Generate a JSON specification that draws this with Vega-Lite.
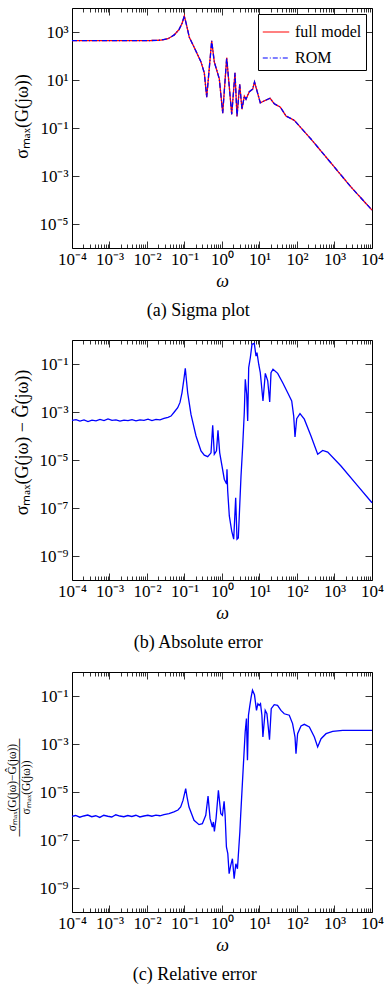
{
"$schema": "https://vega.github.io/schema/vega-lite/v6.json",
"padding": {"left": 5, "top": 7, "right": 5, "bottom": 4},
"background": "white",
"bounds": "flush",
"spacing": 92,
"datasets": {
"a": [{"w":0.0001,"v":436.5},{"w":0.0003214,"v":436.5},{"w":0.001096,"v":436.5},{"w":0.003741,"v":436.5},{"w":0.01279,"v":441.6},{"w":0.0236,"v":457.1},{"w":0.03631,"v":524.8},{"w":0.05346,"v":758.6},{"w":0.07129,"v":1259},{"w":0.0857,"v":2239},{"w":0.09886,"v":4677},{"w":0.113,"v":1995},{"w":0.1343,"v":602.6},{"w":0.1824,"v":223.9},{"w":0.2754,"v":56.23},{"w":0.3373,"v":19.95},{"w":0.3908,"v":1.905},{"w":0.5309,"v":426.6},{"w":0.6237,"v":56.23},{"w":0.8472,"v":11.22},{"w":1.045,"v":0.4169},{"w":1.334,"v":85.11},{"w":1.816,"v":0.3715},{"w":2.223,"v":19.95},{"w":2.512,"v":0.302},{"w":2.965,"v":6.607},{"w":3.412,"v":0.6026},{"w":3.936,"v":2.138},{"w":4.365,"v":1.585},{"w":5.346,"v":3.236},{"w":6.592,"v":4.169},{"w":7.362,"v":8.318},{"w":8.57,"v":3.548},{"w":10.5,"v":1.122},{"w":13.43,"v":1.349},{"w":19.05,"v":1.738},{"w":24.83,"v":1.023},{"w":35.89,"v":0.7413},{"w":50.93,"v":0.3162},{"w":84.72,"v":0.2089},{"w":236,"v":0.03467},{"w":807.2,"v":0.003467},{"w":2754,"v":0.0003467},{"w":10000,"v":0.00003802}],
"b": [{"w":1e-4,"v":4.467e-4},{"w":1.279e-4,"v":4.786e-4},{"w":1.633e-4,"v":4.169e-4},{"w":2.089e-4,"v":4.677e-4},{"w":2.673e-4,"v":3.981e-4},{"w":3.412e-4,"v":4.571e-4},{"w":4.365e-4,"v":4.266e-4},{"w":5.585e-4,"v":4.898e-4},{"w":7.129e-4,"v":4.365e-4},{"w":9.12e-4,"v":5.129e-4},{"w":1.167e-3,"v":4.467e-4},{"w":1.489e-3,"v":4.677e-4},{"w":1.905e-3,"v":4.169e-4},{"w":2.438e-3,"v":4.571e-4},{"w":3.112e-3,"v":4.365e-4},{"w":3.981e-3,"v":4.786e-4},{"w":5.093e-3,"v":4.266e-4},{"w":6.501e-3,"v":4.677e-4},{"w":8.318e-3,"v":4.467e-4},{"w":0.01064,"v":5.012e-4},{"w":0.01358,"v":4.365e-4},{"w":0.01738,"v":4.898e-4},{"w":0.02223,"v":4.677e-4},{"w":0.02838,"v":5.37e-4},{"w":0.03631,"v":6.026e-4},{"w":0.04365,"v":6.761e-4},{"w":0.05346,"v":1e-3},{"w":0.06592,"v":1.514e-3},{"w":0.07586,"v":2.512e-3},{"w":0.0857,"v":6.31e-3},{"w":0.09705,"v":0.02512},{"w":0.105,"v":0.06607},{"w":0.113,"v":0.01995},{"w":0.1216,"v":6.31e-3},{"w":0.1489,"v":7.943e-4},{"w":0.2028,"v":1e-4},{"w":0.2754,"v":2.399e-5},{"w":0.3373,"v":1.585e-5},{"w":0.4159,"v":1.38e-5},{"w":0.5093,"v":1.995e-5},{"w":0.5649,"v":2.818e-4},{"w":0.6237,"v":1.738e-5},{"w":0.7129,"v":2.399e-5},{"w":0.7816,"v":1.738e-4},{"w":0.869,"v":1.995e-5},{"w":1.151,"v":1.585e-6},{"w":1.327,"v":1e-6},{"w":1.358,"v":4.074e-6},{"w":1.419,"v":5.129e-7},{"w":1.567,"v":4.677e-8},{"w":1.816,"v":1.096e-8},{"w":2.051,"v":5.012e-9},{"w":2.317,"v":2.692e-7},{"w":2.512,"v":5.012e-9},{"w":2.723,"v":5.623e-9},{"w":3.214,"v":2.138e-6},{"w":3.565,"v":3.802e-5},{"w":3.936,"v":1e-3},{"w":4.178,"v":0.02291},{"w":4.56,"v":5.495e-3},{"w":4.842,"v":4.217e-4},{"w":5.152,"v":0.07079},{"w":5.689,"v":0.182},{"w":6.31,"v":0.6607},{"w":7.261,"v":0.7244},{"w":8.072,"v":0.2138},{"w":8.57,"v":0.2951},{"w":9.528,"v":0.09772},{"w":10.5,"v":0.04365},{"w":12.38,"v":2.884e-3},{"w":14.29,"v":0.04074},{"w":16.56,"v":0.01995},{"w":18.71,"v":2.63e-3},{"w":20.28,"v":0.04365},{"w":22.91,"v":0.06026},{"w":30.55,"v":0.04074},{"w":41.59,"v":0.0166},{"w":56.49,"v":6.31e-3},{"w":72.28,"v":2.884e-3},{"w":81.66,"v":6.761e-4},{"w":88.51,"v":9.12e-5},{"w":98.17,"v":5.248e-4},{"w":120.2,"v":8.511e-4},{"w":156.7,"v":5.012e-4},{"w":236,"v":1e-4},{"w":356.5,"v":1.738e-5},{"w":484.2,"v":2.512e-5},{"w":659.2,"v":2.138e-5},{"w":1489,"v":5.623e-6},{"w":4159,"v":8.318e-7},{"w":10000,"v":1.66e-7}],
"c": [{"w":1e-4,"v":9.55e-7},{"w":1.256e-4,"v":1.047e-6},{"w":1.607e-4,"v":8.913e-7},{"w":2.056e-4,"v":1e-6},{"w":2.63e-4,"v":1.096e-6},{"w":3.365e-4,"v":9.333e-7},{"w":4.305e-4,"v":1.023e-6},{"w":5.508e-4,"v":8.71e-7},{"w":7.047e-4,"v":1.072e-6},{"w":9.016e-4,"v":9.772e-7},{"w":1.151e-3,"v":9.12e-7},{"w":1.472e-3,"v":1.122e-6},{"w":1.884e-3,"v":1e-6},{"w":2.41e-3,"v":9.333e-7},{"w":3.083e-3,"v":1.047e-6},{"w":3.945e-3,"v":9.55e-7},{"w":5.047e-3,"v":1.072e-6},{"w":6.457e-3,"v":9.12e-7},{"w":8.26e-3,"v":1e-6},{"w":0.01057,"v":1.072e-6},{"w":0.01352,"v":9.772e-7},{"w":0.0173,"v":1.096e-6},{"w":0.02213,"v":1.023e-6},{"w":0.02831,"v":1.148e-6},{"w":0.03855,"v":1.259e-6},{"w":0.05224,"v":1.479e-6},{"w":0.06699,"v":1.778e-6},{"w":0.07907,"v":2.371e-6},{"w":0.0912,"v":4.467e-6},{"w":0.1076,"v":1.38e-5},{"w":0.1167,"v":6.31e-6},{"w":0.1318,"v":2.371e-6},{"w":0.1795,"v":6.607e-7},{"w":0.2443,"v":4.365e-7},{"w":0.2992,"v":4.786e-7},{"w":0.369,"v":1.072e-6},{"w":0.4246,"v":6.761e-6},{"w":0.4808,"v":7.762e-7},{"w":0.5534,"v":3.467e-7},{"w":0.5888,"v":5.623e-7},{"w":0.6266,"v":2.291e-7},{"w":0.695,"v":7.943e-7},{"w":0.8017,"v":1.175e-5},{"w":0.929,"v":1.259e-6},{"w":1.026,"v":1.072e-6},{"w":1.138,"v":4.074e-6},{"w":1.211,"v":1.072e-6},{"w":1.312,"v":5.129e-8},{"w":1.429,"v":2.692e-8},{"w":1.549,"v":3.981e-9},{"w":1.718,"v":8.913e-9},{"w":1.897,"v":1.66e-8},{"w":2.109,"v":2.455e-9},{"w":2.339,"v":1.023e-8},{"w":2.582,"v":6.31e-9},{"w":2.992,"v":2.138e-7},{"w":3.141,"v":1e-6},{"w":3.508,"v":2.512e-5},{"w":4.15,"v":3.162e-3},{"w":4.487,"v":0.01148},{"w":4.775,"v":2.089e-4},{"w":5.082,"v":0.01585},{"w":5.534,"v":0.04074},{"w":5.998,"v":0.0912},{"w":6.501,"v":0.1738},{"w":7.345,"v":0.1122},{"w":8.318,"v":0.02512},{"w":9.057,"v":0.04786},{"w":9.817,"v":0.04074},{"w":10.64,"v":0.04786},{"w":11.59,"v":0.01585},{"w":12.33,"v":1.95e-3},{"w":14.19,"v":0.02512},{"w":15.78,"v":0.0182},{"w":18.49,"v":1.514e-3},{"w":20.56,"v":0.02951},{"w":24.72,"v":0.04365},{"w":30.27,"v":0.04074},{"w":37.33,"v":0.02512},{"w":45.71,"v":0.0182},{"w":62.23,"v":0.01585},{"w":76.21,"v":7.079e-3},{"w":88.51,"v":1.95e-3},{"w":93.97,"v":3.981e-4},{"w":103.8,"v":2.692e-3},{"w":127.9,"v":5.623e-3},{"w":156.7,"v":6.607e-3},{"w":213.3,"v":5.129e-3},{"w":290.4,"v":1.95e-3},{"w":355.6,"v":7.499e-4},{"w":438.5,"v":1.66e-3},{"w":595.7,"v":2.692e-3},{"w":895.4,"v":3.388e-3},{"w":1656,"v":3.715e-3},{"w":10000,"v":3.715e-3}]
},
"vconcat": [
{
"width": 300, "height": 240,
"data": {"name": "a"},
"title": {"text": "(a) Sigma plot", "orient": "bottom", "anchor": "middle", "frame": "bounds", "offset": 12},
"layer": [
{"mark": {"type": "line", "strokeWidth": 1.3},
 "encoding": {
  "x": {"field": "w", "type": "quantitative", "scale": {"type": "log", "domain": [0.0001, 10000]},
   "axis": {"orient": "bottom", "values": [0.0001,0.0002,0.0003,0.0004,0.0005,0.0006,0.0007,0.0008,0.0009,0.001,0.002,0.003,0.004,0.005,0.006,0.007,0.008,0.009,0.01,0.02,0.03,0.04,0.05,0.06,0.07,0.08,0.09,0.1,0.2,0.3,0.4,0.5,0.6,0.7,0.8,0.9,1,2,3,4,5,6,7,8,9,10,20,30,40,50,60,70,80,90,100,200,300,400,500,600,700,800,900,1000,2000,3000,4000,5000,6000,7000,8000,9000,10000],
    "labelExpr": "abs(log(datum.value)/LN10-round(log(datum.value)/LN10))<0.001 ? ['10⁻⁴','10⁻³','10⁻²','10⁻¹','10⁰','10¹','10²','10³','10⁴'][round(log(datum.value)/LN10)+4] : ''",
    "tickSize": {"condition": {"test": "abs(log(datum.value)/LN10-round(log(datum.value)/LN10))<0.001", "value": -7}, "value": -4},
    "labelPadding": 10, "title": "ω", "titleFontStyle": "italic", "titleFontSize": 18, "titlePadding": 2}},
  "y": {"field": "v", "type": "quantitative", "scale": {"type": "log", "domain": [0.000001, 10000]},
   "axis": {"orient": "left", "values": [1000, 10, 0.1, 0.001, 0.00001],
    "labelExpr": "['10⁻⁹','10⁻⁸','10⁻⁷','10⁻⁶','10⁻⁵','10⁻⁴','10⁻³','10⁻²','10⁻¹','10⁰','10¹','10²','10³','10⁴'][round(log(datum.value)/LN10)+9]",
    "tickSize": -7, "labelPadding": 11, "title": "σₘₐₓ(G(jω))", "titleFontSize": 18, "titlePadding": 8, "titleY": 108}},
  "color": {"datum": "full model", "type": "nominal", "scale": {"domain": ["full model", "ROM"], "range": ["#ff0000", "#0000ff"]},
   "legend": {"orient": "top-right", "offset": 6, "title": null, "strokeColor": "black", "fillColor": "white", "padding": 4, "cornerRadius": 0, "labelFont": "Liberation Serif", "labelFontSize": 16, "symbolType": "stroke", "symbolSize": 700, "symbolStrokeWidth": 1.2, "rowPadding": 4, "labelOffset": 5}},
  "strokeDash": {"datum": "full model", "type": "nominal", "scale": {"domain": ["full model", "ROM"], "range": [[1, 0], [5, 2, 1, 2]]},
   "legend": {"orient": "top-right", "offset": 6, "title": null, "strokeColor": "black", "fillColor": "white", "padding": 4, "cornerRadius": 0, "labelFont": "Liberation Serif", "labelFontSize": 16, "symbolType": "stroke", "symbolSize": 700, "symbolStrokeWidth": 1.2, "rowPadding": 4, "labelOffset": 5}}
 }},
{"mark": {"type": "line", "strokeWidth": 1.3},
 "encoding": {
  "x": {"field": "w", "type": "quantitative", "axis": null},
  "y": {"field": "v", "type": "quantitative", "axis": null},
  "color": {"datum": "ROM", "type": "nominal"},
  "strokeDash": {"datum": "ROM", "type": "nominal"}
 }},
{"mark": {"type": "line", "opacity": 0},
 "encoding": {
  "x": {"field": "w", "type": "quantitative",
   "axis": {"orient": "top", "values": [0.0001,0.0002,0.0003,0.0004,0.0005,0.0006,0.0007,0.0008,0.0009,0.001,0.002,0.003,0.004,0.005,0.006,0.007,0.008,0.009,0.01,0.02,0.03,0.04,0.05,0.06,0.07,0.08,0.09,0.1,0.2,0.3,0.4,0.5,0.6,0.7,0.8,0.9,1,2,3,4,5,6,7,8,9,10,20,30,40,50,60,70,80,90,100,200,300,400,500,600,700,800,900,1000,2000,3000,4000,5000,6000,7000,8000,9000,10000],
    "labels": false, "title": null,
    "tickSize": {"condition": {"test": "abs(log(datum.value)/LN10-round(log(datum.value)/LN10))<0.001", "value": -7}, "value": -4}}},
  "y": {"field": "v", "type": "quantitative",
   "axis": {"orient": "right", "values": [1000, 10, 0.1, 0.001, 0.00001], "labels": false, "title": null, "tickSize": -7}}
 }}
],
"resolve": {"axis": {"x": "independent", "y": "independent"}}
},
{
"width": 300, "height": 240,
"data": {"name": "b"},
"title": {"text": "(b) Absolute error", "orient": "bottom", "anchor": "middle", "frame": "bounds", "offset": 12},
"layer": [
{"mark": {"type": "line", "strokeWidth": 1.3, "color": "#0000ff"},
 "encoding": {
  "x": {"field": "w", "type": "quantitative", "scale": {"type": "log", "domain": [0.0001, 10000]},
   "axis": {"orient": "bottom", "values": [0.0001,0.0002,0.0003,0.0004,0.0005,0.0006,0.0007,0.0008,0.0009,0.001,0.002,0.003,0.004,0.005,0.006,0.007,0.008,0.009,0.01,0.02,0.03,0.04,0.05,0.06,0.07,0.08,0.09,0.1,0.2,0.3,0.4,0.5,0.6,0.7,0.8,0.9,1,2,3,4,5,6,7,8,9,10,20,30,40,50,60,70,80,90,100,200,300,400,500,600,700,800,900,1000,2000,3000,4000,5000,6000,7000,8000,9000,10000],
    "labelExpr": "abs(log(datum.value)/LN10-round(log(datum.value)/LN10))<0.001 ? ['10⁻⁴','10⁻³','10⁻²','10⁻¹','10⁰','10¹','10²','10³','10⁴'][round(log(datum.value)/LN10)+4] : ''",
    "tickSize": {"condition": {"test": "abs(log(datum.value)/LN10-round(log(datum.value)/LN10))<0.001", "value": -7}, "value": -4},
    "labelPadding": 10, "title": "ω", "titleFontStyle": "italic", "titleFontSize": 18, "titlePadding": 2}},
  "y": {"field": "v", "type": "quantitative", "scale": {"type": "log", "domain": [1e-10, 1]},
   "axis": {"orient": "left", "values": [0.1, 0.001, 0.00001, 1e-7, 1e-9],
    "labelExpr": "['10⁻⁹','10⁻⁸','10⁻⁷','10⁻⁶','10⁻⁵','10⁻⁴','10⁻³','10⁻²','10⁻¹','10⁰','10¹','10²','10³','10⁴'][round(log(datum.value)/LN10)+9]",
    "tickSize": -7, "labelPadding": 11, "title": "σₘₐₓ(G(jω) − Ĝ(jω))", "titleFontSize": 18, "titlePadding": 8, "titleY": 102}}
 }},
{"mark": {"type": "line", "opacity": 0},
 "encoding": {
  "x": {"field": "w", "type": "quantitative",
   "axis": {"orient": "top", "values": [0.0001,0.0002,0.0003,0.0004,0.0005,0.0006,0.0007,0.0008,0.0009,0.001,0.002,0.003,0.004,0.005,0.006,0.007,0.008,0.009,0.01,0.02,0.03,0.04,0.05,0.06,0.07,0.08,0.09,0.1,0.2,0.3,0.4,0.5,0.6,0.7,0.8,0.9,1,2,3,4,5,6,7,8,9,10,20,30,40,50,60,70,80,90,100,200,300,400,500,600,700,800,900,1000,2000,3000,4000,5000,6000,7000,8000,9000,10000],
    "labels": false, "title": null,
    "tickSize": {"condition": {"test": "abs(log(datum.value)/LN10-round(log(datum.value)/LN10))<0.001", "value": -7}, "value": -4}}},
  "y": {"field": "v", "type": "quantitative",
   "axis": {"orient": "right", "values": [0.1, 0.001, 0.00001, 1e-7, 1e-9], "labels": false, "title": null, "tickSize": -7}}
 }}
],
"resolve": {"axis": {"x": "independent", "y": "independent"}}
},
{
"width": 300, "height": 240,
"data": {"name": "c"},
"title": {"text": "(c) Relative error", "orient": "bottom", "anchor": "middle", "frame": "bounds", "offset": 12},
"layer": [
{"mark": {"type": "line", "strokeWidth": 1.3, "color": "#0000ff"},
 "encoding": {
  "x": {"field": "w", "type": "quantitative", "scale": {"type": "log", "domain": [0.0001, 10000]},
   "axis": {"orient": "bottom", "values": [0.0001,0.0002,0.0003,0.0004,0.0005,0.0006,0.0007,0.0008,0.0009,0.001,0.002,0.003,0.004,0.005,0.006,0.007,0.008,0.009,0.01,0.02,0.03,0.04,0.05,0.06,0.07,0.08,0.09,0.1,0.2,0.3,0.4,0.5,0.6,0.7,0.8,0.9,1,2,3,4,5,6,7,8,9,10,20,30,40,50,60,70,80,90,100,200,300,400,500,600,700,800,900,1000,2000,3000,4000,5000,6000,7000,8000,9000,10000],
    "labelExpr": "abs(log(datum.value)/LN10-round(log(datum.value)/LN10))<0.001 ? ['10⁻⁴','10⁻³','10⁻²','10⁻¹','10⁰','10¹','10²','10³','10⁴'][round(log(datum.value)/LN10)+4] : ''",
    "tickSize": {"condition": {"test": "abs(log(datum.value)/LN10-round(log(datum.value)/LN10))<0.001", "value": -7}, "value": -4},
    "labelPadding": 10, "title": "ω", "titleFontStyle": "italic", "titleFontSize": 18, "titlePadding": 2}},
  "y": {"field": "v", "type": "quantitative", "scale": {"type": "log", "domain": [1e-10, 1]},
   "axis": {"orient": "left", "values": [0.1, 0.001, 0.00001, 1e-7, 1e-9],
    "labelExpr": "['10⁻⁹','10⁻⁸','10⁻⁷','10⁻⁶','10⁻⁵','10⁻⁴','10⁻³','10⁻²','10⁻¹','10⁰','10¹','10²','10³','10⁴'][round(log(datum.value)/LN10)+9]",
    "tickSize": -7, "labelPadding": 11, "title": ["σₘₐₓ(G(jω)−Ĝ(jω))", "────────────", "σₘₐₓ(G(jω))"], "titleFontSize": 11.5, "titleLineHeight": 7, "titlePadding": 8, "titleY": 115}}
 }},
{"mark": {"type": "line", "opacity": 0},
 "encoding": {
  "x": {"field": "w", "type": "quantitative",
   "axis": {"orient": "top", "values": [0.0001,0.0002,0.0003,0.0004,0.0005,0.0006,0.0007,0.0008,0.0009,0.001,0.002,0.003,0.004,0.005,0.006,0.007,0.008,0.009,0.01,0.02,0.03,0.04,0.05,0.06,0.07,0.08,0.09,0.1,0.2,0.3,0.4,0.5,0.6,0.7,0.8,0.9,1,2,3,4,5,6,7,8,9,10,20,30,40,50,60,70,80,90,100,200,300,400,500,600,700,800,900,1000,2000,3000,4000,5000,6000,7000,8000,9000,10000],
    "labels": false, "title": null,
    "tickSize": {"condition": {"test": "abs(log(datum.value)/LN10-round(log(datum.value)/LN10))<0.001", "value": -7}, "value": -4}}},
  "y": {"field": "v", "type": "quantitative",
   "axis": {"orient": "right", "values": [0.1, 0.001, 0.00001, 1e-7, 1e-9], "labels": false, "title": null, "tickSize": -7}}
 }}
],
"resolve": {"axis": {"x": "independent", "y": "independent"}}
}
],
"config": {
 "view": {"stroke": "black", "strokeWidth": 1},
 "axis": {"grid": false, "domain": false, "tickColor": "black", "tickWidth": 0.8, "labelFont": "Liberation Serif", "labelFontSize": 17, "labelColor": "black", "titleFont": "Liberation Serif", "titleFontWeight": "normal", "titleColor": "black", "labelOverlap": false, "labelFlush": false, "labelBound": false},
 "title": {"font": "Liberation Serif", "fontWeight": "normal", "fontSize": 18, "color": "black"}
}
}
